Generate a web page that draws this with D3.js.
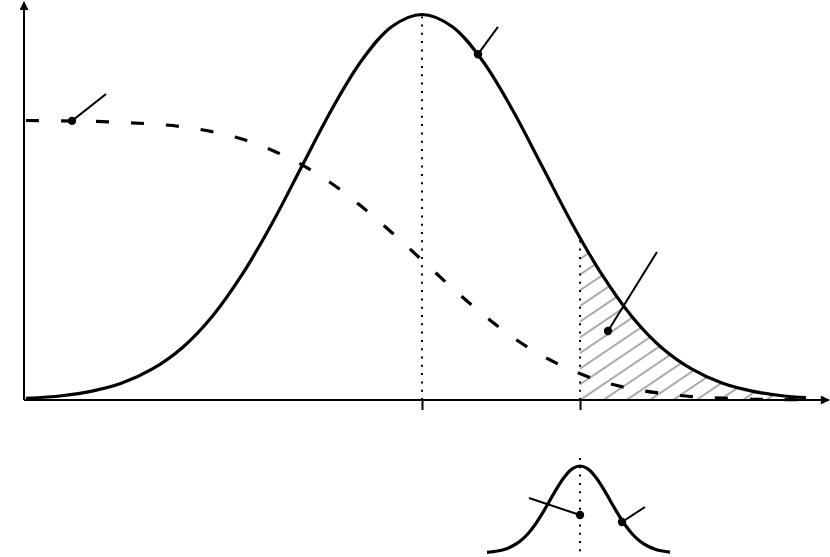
<html>
<head>
<script src="https://d3js.org/d3.v7.min.js"></script>
<style>
  body { margin: 0; background: #fff; }
</style>
</head>
<body>
<div id="chart"></div>
<script>
// main curves, x in sigma units, y relative to the peak of the density
var zs       = [-3.3, -3, -2.75, -2.5, -2.25, -2, -1.75, -1.5, -1.25, -1, -0.75, -0.5, -0.25, 0,
                0.25, 0.5, 0.75, 1, 1.25, 1.5, 1.75, 2, 2.25, 2.5, 2.75, 3, 3.2];
var pdfVals  = [0.004, 0.011, 0.023, 0.044, 0.080, 0.135, 0.216, 0.325, 0.458, 0.607, 0.755, 0.882, 0.969, 1,
                0.969, 0.882, 0.755, 0.607, 0.458, 0.325, 0.216, 0.135, 0.080, 0.044, 0.023, 0.011, 0.006];
var tailVals = [0.725, 0.724, 0.723, 0.720, 0.716, 0.709, 0.696, 0.677, 0.648, 0.610, 0.561, 0.501, 0.434, 0.363,
                0.291, 0.224, 0.164, 0.115, 0.077, 0.048, 0.029, 0.017, 0.009, 0.005, 0.002, 0.001, 0.0005];
var tickValues = [0, 1.317];
var threshold = 1.317;
var thresholdPdf = 0.42;

// small curve below the axis
var smallZs   = [-3.1, -2.75, -2.5, -2.25, -2, -1.75, -1.5, -1.25, -1, -0.75, -0.5, -0.25, 0,
                 0.25, 0.5, 0.75, 1, 1.25, 1.5, 1.75, 2, 2.25, 2.5, 2.75, 3];
var smallVals = [0.008, 0.023, 0.044, 0.080, 0.135, 0.216, 0.325, 0.458, 0.607, 0.755, 0.882, 0.969, 1,
                 0.969, 0.882, 0.755, 0.607, 0.458, 0.325, 0.216, 0.135, 0.080, 0.044, 0.023, 0.011];

// callouts: point on a curve and the far end of its leader
var callouts = [
  {z: -2.917, v: 0.724, z2: -2.633, v2: 0.794},
  {z: 0.467,  v: 0.897, z2: 0.633,  v2: 0.968},
  {z: 1.55,   v: 0.179, z2: 1.958,  v2: 0.384}
];
var smallCallouts = [
  {z: 0,   v: 0.437, z2: -1.7,  v2: 0.632},
  {z: 1.4, v: 0.356, z2: 2.167, v2: 0.529}
];

var width = 830, height = 557;

var svg = d3.select("#chart").append("svg")
  .attr("width", width)
  .attr("height", height);

var x = d3.scaleLinear().domain([-3.3167, 3.4]).range([24, 830]);
var y = d3.scaleLinear().domain([0, 1]).range([400, 14.5]);

var sx = d3.scaleLinear().domain([-3.1, 3]).range([487, 670]);
var sy = d3.scaleLinear().domain([0, 1]).range([553, 466]);

var defs = svg.append("defs");

// arrow head
defs.append("marker")
  .attr("id", "arrow")
  .attr("viewBox", "0 0 10 10")
  .attr("refX", 9).attr("refY", 5)
  .attr("markerWidth", 11).attr("markerHeight", 9)
  .attr("markerUnits", "userSpaceOnUse")
  .attr("orient", "auto")
  .append("path")
    .attr("d", "M0,0 L10,5 L0,10 Z")
    .attr("fill", "#000");

// hatch pattern
var pat = defs.append("pattern")
  .attr("id", "hatch")
  .attr("patternUnits", "userSpaceOnUse")
  .attr("width", 10).attr("height", 13)
  .attr("patternTransform", "rotate(-34)");
pat.append("line")
  .attr("x1", 0).attr("y1", 6).attr("x2", 10).attr("y2", 6)
  .attr("stroke", "#8e8e8e")
  .attr("stroke-width", 1.5);

defs.append("clipPath").attr("id", "tailclip")
  .append("rect")
    .attr("x", x(threshold))
    .attr("y", y(1))
    .attr("width", x(zs[zs.length - 1]) - x(threshold) + 1)
    .attr("height", y(0) - y(1));

var pts = zs.map(function(z, i) { return {z: z, p: pdfVals[i], t: tailVals[i]}; });
var spts = smallZs.map(function(z, i) { return {z: z, p: smallVals[i]}; });

// hatched tail
svg.append("path")
  .datum(pts)
  .attr("clip-path", "url(#tailclip)")
  .attr("fill", "url(#hatch)")
  .attr("d", d3.area()
    .curve(d3.curveCatmullRom)
    .x(function(d) { return x(d.z); })
    .y0(y(0))
    .y1(function(d) { return y(d.p); }));

// dotted verticals
svg.append("line")
  .attr("x1", x(0)).attr("x2", x(0))
  .attr("y1", y(0)).attr("y2", y(1) + 2)
  .attr("stroke", "#000").attr("stroke-width", 2)
  .attr("stroke-dasharray", "2 6.3");
svg.append("line")
  .attr("x1", x(threshold)).attr("x2", x(threshold))
  .attr("y1", y(0)).attr("y2", y(thresholdPdf))
  .attr("stroke", "#000").attr("stroke-width", 2)
  .attr("stroke-dasharray", "2 6.3");

// dashed tail curve
svg.append("path")
  .datum(pts)
  .attr("fill", "none")
  .attr("stroke", "#000")
  .attr("stroke-width", 3.2)
  .attr("stroke-dasharray", "13 22")
  .attr("d", d3.line()
    .curve(d3.curveCatmullRom)
    .x(function(d) { return x(d.z); })
    .y(function(d) { return y(d.t); }));

// density curve
svg.append("path")
  .datum(pts)
  .attr("fill", "none")
  .attr("stroke", "#000")
  .attr("stroke-width", 3.2)
  .attr("d", d3.line()
    .curve(d3.curveCatmullRom)
    .x(function(d) { return x(d.z); })
    .y(function(d) { return y(d.p); }));

// axes
svg.append("line")
  .attr("x1", x.range()[0]).attr("y1", y(0))
  .attr("x2", 829).attr("y2", y(0))
  .attr("stroke", "#000").attr("stroke-width", 2)
  .attr("marker-end", "url(#arrow)");
svg.append("line")
  .attr("x1", x.range()[0]).attr("y1", y(0))
  .attr("x2", x.range()[0]).attr("y2", 2)
  .attr("stroke", "#000").attr("stroke-width", 2)
  .attr("marker-end", "url(#arrow)");

var xAxis = svg.append("g")
  .attr("transform", "translate(0," + y(0) + ")")
  .call(d3.axisBottom(x).tickValues(tickValues).tickSize(10).tickFormat(""));
xAxis.select(".domain").remove();
xAxis.selectAll(".tick line").attr("stroke", "#000").attr("stroke-width", 2);

// callouts on the main chart
callouts.forEach(function(c) {
  svg.append("line")
    .attr("x1", x(c.z)).attr("y1", y(c.v))
    .attr("x2", x(c.z2)).attr("y2", y(c.v2))
    .attr("stroke", "#000").attr("stroke-width", 2);
  svg.append("circle")
    .attr("cx", x(c.z)).attr("cy", y(c.v))
    .attr("r", 4.2).attr("fill", "#000");
});

// small curve
svg.append("line")
  .attr("x1", sx(0)).attr("x2", sx(0))
  .attr("y1", sy(1) - 8).attr("y2", height)
  .attr("stroke", "#000").attr("stroke-width", 2)
  .attr("stroke-dasharray", "2 6.3");

svg.append("path")
  .datum(spts)
  .attr("fill", "none")
  .attr("stroke", "#000")
  .attr("stroke-width", 3.2)
  .attr("d", d3.line()
    .curve(d3.curveCatmullRom)
    .x(function(d) { return sx(d.z); })
    .y(function(d) { return sy(d.p); }));

smallCallouts.forEach(function(c) {
  svg.append("line")
    .attr("x1", sx(c.z)).attr("y1", sy(c.v))
    .attr("x2", sx(c.z2)).attr("y2", sy(c.v2))
    .attr("stroke", "#000").attr("stroke-width", 2);
  svg.append("circle")
    .attr("cx", sx(c.z)).attr("cy", sy(c.v))
    .attr("r", 4.2).attr("fill", "#000");
});
</script>
</body>
</html>
